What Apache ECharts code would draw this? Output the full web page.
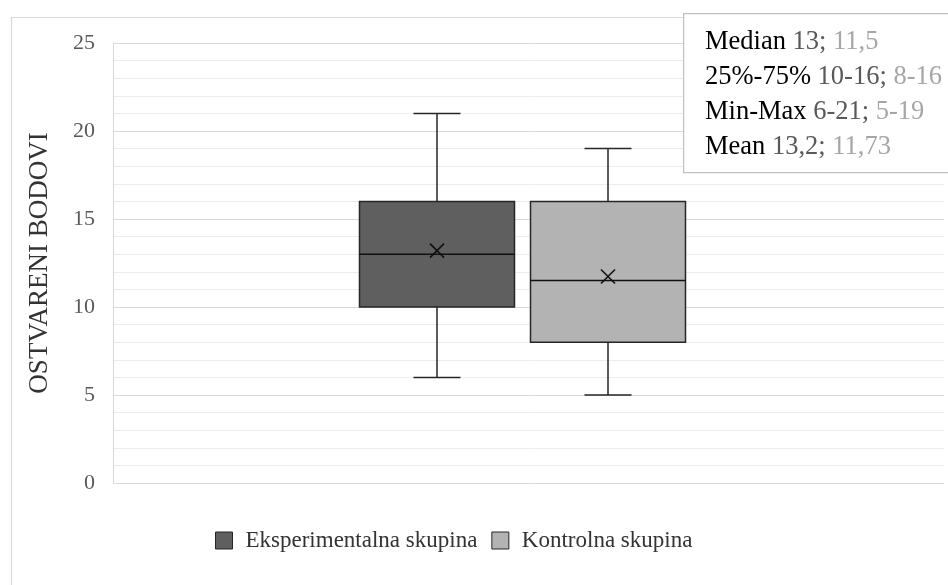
<!DOCTYPE html>
<html>
<head>
<meta charset="utf-8">
<script src="https://cdn.jsdelivr.net/npm/echarts@6/dist/echarts.min.js"></script>
<style>
html,body{margin:0;padding:0;background:#fff;}
#chart{width:948px;height:585px;}
</style>
</head>
<body>
<div id="chart"></div>
<script>
// ---- data ----
const categories = ['Eksperimentalna skupina', 'Kontrolna skupina'];
const minVals   = [6, 5];
const q1Vals    = [10, 8];
const medians   = [13, 11.5];
const q3Vals    = [16, 16];
const maxVals   = [21, 19];
const means     = [13.2, 11.73];
const yMin = 0, yMax = 25, yInterval = 5;
const yAxisTitle = 'OSTVARENI BODOVI';

// ---- style ----
const fills = ['#5f5f5f', '#b3b3b3'];
const FONT = '"Liberation Serif", "Times New Roman", serif';
const BOX_W = 155, CAP_W = 47, X_HALF = 7;

const fmt = v => String(v).replace('.', ',');

function renderBox(params, api) {
  const c = api.value(0);
  const pMax = api.coord([c, api.value(5)]);
  const pQ3 = api.coord([c, api.value(4)]);
  const pMed = api.coord([c, api.value(3)]);
  const pQ1 = api.coord([c, api.value(2)]);
  const pMin = api.coord([c, api.value(1)]);
  const pMean = api.coord([c, api.value(6)]);
  const cx = pMed[0];
  const h = BOX_W / 2, ch = CAP_W / 2;
  const ls = {stroke: '#262626', lineWidth: 1.5};
  const idx = params.seriesIndex;
  return {
    type: 'group',
    children: [
      {type: 'line', shape: {x1: cx, y1: pMax[1], x2: cx, y2: pQ3[1]}, style: ls},
      {type: 'line', shape: {x1: cx, y1: pQ1[1], x2: cx, y2: pMin[1]}, style: ls},
      {type: 'line', shape: {x1: cx - ch, y1: pMax[1], x2: cx + ch, y2: pMax[1]}, style: ls},
      {type: 'line', shape: {x1: cx - ch, y1: pMin[1], x2: cx + ch, y2: pMin[1]}, style: ls},
      {type: 'rect', shape: {x: cx - h, y: pQ3[1], width: BOX_W, height: pQ1[1] - pQ3[1]},
        style: {fill: fills[idx], stroke: '#262626', lineWidth: 1.5}},
      {type: 'line', shape: {x1: cx - h, y1: pMed[1], x2: cx + h, y2: pMed[1]}, style: {stroke: '#111', lineWidth: 1.5}},
      {type: 'line', shape: {x1: pMean[0] - X_HALF, y1: pMean[1] - X_HALF, x2: pMean[0] + X_HALF, y2: pMean[1] + X_HALF}, style: {stroke: '#111', lineWidth: 1.6}},
      {type: 'line', shape: {x1: pMean[0] - X_HALF, y1: pMean[1] + X_HALF, x2: pMean[0] + X_HALF, y2: pMean[1] - X_HALF}, style: {stroke: '#111', lineWidth: 1.6}}
    ]
  };
}

const series = categories.map((name, i) => ({
  name: name,
  type: 'custom',
  xAxisIndex: 1,
  yAxisIndex: 1,
  itemStyle: {color: fills[i], borderColor: '#262626', borderWidth: 1},
  renderItem: renderBox,
  encode: {x: 0, y: [1, 2, 3, 4, 5, 6]},
  data: [[i, minVals[i], q1Vals[i], medians[i], q3Vals[i], maxVals[i], means[i]]],
  z: 3
}));

const boxText =
  '{l|Median} {a|' + fmt(medians[0]) + ';} {b|' + fmt(medians[1]) + '}\n' +
  '{l|25%-75%} {a|' + q1Vals[0] + '-' + q3Vals[0] + ';} {b|' + q1Vals[1] + '-' + q3Vals[1] + '}\n' +
  '{l|Min-Max} {a|' + minVals[0] + '-' + maxVals[0] + ';} {b|' + minVals[1] + '-' + maxVals[1] + '}\n' +
  '{l|Mean} {a|' + fmt(means[0]) + ';} {b|' + fmt(means[1]) + '}';

const rs = (col) => ({fill: col, fontSize: 26.5, fontFamily: FONT, lineHeight: 35});

const chart = echarts.init(document.getElementById('chart'));
chart.setOption({
  animation: false,
  backgroundColor: '#fff',
  grid: [
    {left: 113, right: 4, top: 43, bottom: 102},
    {left: 351.5, width: 342, top: 43, bottom: 102}
  ],
  xAxis: [
    {type: 'category', gridIndex: 0, data: [''], axisLine: {show: false}, axisTick: {show: false}, axisLabel: {show: false}, splitLine: {show: false}},
    {type: 'category', gridIndex: 1, data: categories, axisLine: {show: false}, axisTick: {show: false}, axisLabel: {show: false}, splitLine: {show: false}}
  ],
  yAxis: [
    {
      type: 'value', gridIndex: 0, min: yMin, max: yMax, interval: yInterval,
      name: yAxisTitle, nameLocation: 'middle', nameGap: 60, nameRotate: 90,
      nameTextStyle: {fontFamily: FONT, fontSize: 27, color: '#333'},
      axisLine: {show: true, lineStyle: {color: '#d9d9d9', width: 1}},
      axisTick: {show: false},
      axisLabel: {fontFamily: FONT, fontSize: 22, color: '#595959', margin: 18},
      splitLine: {show: true, lineStyle: {color: '#d9d9d9', width: 1}},
      minorTick: {show: false, splitNumber: 5},
      minorSplitLine: {show: true, lineStyle: {color: '#ececec', width: 1}}
    },
    {type: 'value', gridIndex: 1, min: yMin, max: yMax, interval: yInterval, show: false, splitLine: {show: false}}
  ],
  legend: {
    top: 529,
    left: 215,
    padding: 0,
    itemWidth: 17, itemHeight: 17, itemGap: 14,
    icon: 'rect',
    textStyle: {fontFamily: FONT, fontSize: 23, color: '#333', padding: [0, 0, 0, 8]},
    data: categories.map((n, i) => ({name: n, itemStyle: {color: fills[i], borderColor: '#262626', borderWidth: 1}}))
  },
  graphic: [
    {type: 'rect', left: 9, top: 15, shape: {width: 1000, height: 1000}, style: {fill: 'none', stroke: '#d9d9d9', lineWidth: 1.2}, z: 0, silent: true},
    {type: 'rect', left: 683, top: 13, shape: {width: 400, height: 159}, style: {fill: '#fff', stroke: '#bfbfbf', lineWidth: 1.2}, z: 10},
    {type: 'text', left: 705, top: 25, z: 11,
      style: {text: boxText, font: '26.5px ' + FONT, lineHeight: 35,
        rich: {l: rs('#000'), a: rs('#595959'), b: rs('#a6a6a6')}}}
  ],
  series: series
});
</script>
</body>
</html>
